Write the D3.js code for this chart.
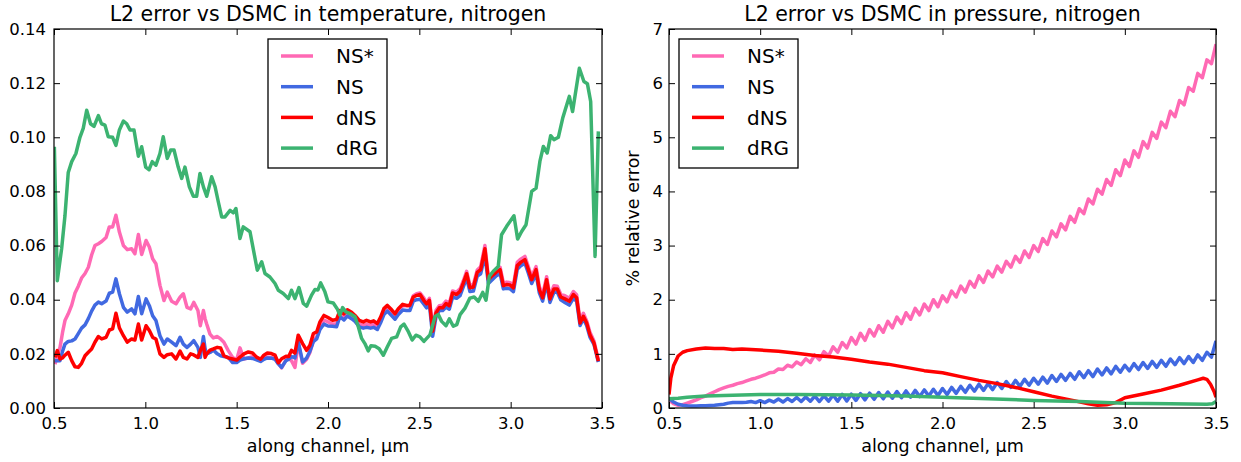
<!DOCTYPE html>
<html>
<head>
<meta charset="utf-8">
<script src="https://cdn.jsdelivr.net/npm/d3@7"></script>
<style>
  body { margin: 0; background: #fff; }
  svg { font-family: 'DejaVu Sans', sans-serif; }
</style>
</head>
<body>
<svg id="chart" width="1241" height="462"></svg>
<script>
const seriesNames = ['NS*', 'NS', 'dNS', 'dRG']
const seriesColors = ['#ff69b4', '#4169e1', '#ff0000', '#3cb371']

const xTicks = [0.5, 1.0, 1.5, 2.0, 2.5, 3.0, 3.5]
const tempTicks = [0, 0.02, 0.04, 0.06, 0.08, 0.1, 0.12, 0.14]
const pressTicks = [0, 1, 2, 3, 4, 5, 6, 7]

// temperature: NS*, NS and dNS are sampled at the same positions
const tempX = [
  0.505, 0.518, 0.533, 0.547, 0.56, 0.578, 0.597, 0.615, 0.633, 0.651,
  0.67, 0.688, 0.706, 0.724, 0.743, 0.761, 0.785, 0.803, 0.821, 0.839,
  0.858, 0.88, 0.901, 0.925, 0.943, 0.962, 0.98, 1.004, 1.022, 1.04,
  1.058, 1.08, 1.102, 1.12, 1.144, 1.168, 1.19, 1.208, 1.228, 1.248,
  1.265, 1.288, 1.301, 1.318, 1.327, 1.336, 1.354, 1.372, 1.394, 1.412,
  1.43, 1.454, 1.478, 1.5, 1.518, 1.54, 1.564, 1.587, 1.609, 1.631,
  1.649, 1.668, 1.69, 1.71, 1.728, 1.746, 1.77, 1.785, 1.8, 1.819,
  1.837, 1.861, 1.883, 1.901, 1.92, 1.938, 1.956, 1.978, 2.0, 2.025,
  2.047, 2.065, 2.087, 2.106, 2.129, 2.148, 2.171, 2.193, 2.211, 2.233,
  2.25, 2.27, 2.288, 2.306, 2.325, 2.343, 2.367, 2.385, 2.409, 2.43,
  2.448, 2.467, 2.485, 2.504, 2.525, 2.54, 2.555, 2.573, 2.591, 2.609,
  2.628, 2.646, 2.664, 2.682, 2.704, 2.723, 2.741, 2.759, 2.777, 2.796,
  2.817, 2.836, 2.859, 2.878, 2.896, 2.92, 2.942, 2.96, 2.978, 2.997,
  3.015, 3.036, 3.055, 3.078, 3.097, 3.115, 3.139, 3.157, 3.175, 3.197,
  3.215, 3.237, 3.255, 3.274, 3.297, 3.321, 3.343, 3.361, 3.38, 3.398,
  3.416, 3.434, 3.456, 3.48,
]
const tempNSstar = [
  0.0162, 0.019, 0.0224, 0.028, 0.0323, 0.0348, 0.038, 0.0425, 0.045, 0.048,
  0.0497, 0.052, 0.0565, 0.06, 0.0607, 0.0615, 0.063, 0.0669, 0.0669, 0.0712,
  0.065, 0.06, 0.0585, 0.0588, 0.057, 0.0641, 0.0567, 0.0619, 0.0595, 0.0551,
  0.0533, 0.0453, 0.0397, 0.0428, 0.0394, 0.0385, 0.0409, 0.0422, 0.0372, 0.0366,
  0.039, 0.036, 0.0304, 0.036, 0.033, 0.031, 0.0273, 0.0259, 0.0264, 0.0255,
  0.0243, 0.0212, 0.0187, 0.0178, 0.0222, 0.0181, 0.0185, 0.019, 0.0182, 0.0178,
  0.0185, 0.0188, 0.0186, 0.0183, 0.0165, 0.0148, 0.0178, 0.0182, 0.0175, 0.015,
  0.024, 0.0165, 0.018, 0.0205, 0.025, 0.0262, 0.0295, 0.0325, 0.0318, 0.031,
  0.031, 0.0345, 0.0335, 0.035, 0.034, 0.033, 0.031, 0.0305, 0.031, 0.0305,
  0.031, 0.03, 0.0325, 0.0357, 0.037, 0.0358, 0.034, 0.0358, 0.0378, 0.0378,
  0.0378, 0.0415, 0.0422, 0.0425, 0.0406, 0.0388, 0.0405, 0.0295, 0.036, 0.0378,
  0.038, 0.0395, 0.0386, 0.0432, 0.0428, 0.044, 0.047, 0.0505, 0.0453, 0.0456,
  0.051, 0.0522, 0.06, 0.0482, 0.0495, 0.051, 0.052, 0.0462, 0.0465, 0.0463,
  0.0452, 0.0538, 0.055, 0.056, 0.0522, 0.0485, 0.0522, 0.0448, 0.0418, 0.0485,
  0.0413, 0.0452, 0.045, 0.042, 0.0415, 0.0405, 0.043, 0.0418, 0.0322, 0.035,
  0.0322, 0.028, 0.0248, 0.0178,
]
const tempNS = [
  0.0175, 0.0175, 0.0175, 0.021, 0.0236, 0.0246, 0.0248, 0.0255, 0.0275, 0.0295,
  0.0307, 0.033, 0.0358, 0.038, 0.0391, 0.0385, 0.0395, 0.0424, 0.0428, 0.0477,
  0.0422, 0.0372, 0.0354, 0.0366, 0.0348, 0.0412, 0.0348, 0.0403, 0.0378, 0.0341,
  0.0323, 0.0267, 0.0236, 0.0255, 0.0243, 0.023, 0.0261, 0.0236, 0.0224, 0.0236,
  0.0249, 0.0224, 0.0187, 0.0264, 0.022, 0.02, 0.0205, 0.0214, 0.02, 0.0193,
  0.019, 0.0187, 0.0168, 0.0168, 0.0177, 0.0182, 0.0185, 0.0183, 0.0178, 0.0172,
  0.018, 0.0185, 0.0184, 0.018, 0.0163, 0.015, 0.0175, 0.018, 0.019, 0.0185,
  0.0245, 0.017, 0.0185, 0.021, 0.0245, 0.0255, 0.029, 0.031, 0.0303, 0.0302,
  0.03, 0.0338, 0.0325, 0.034, 0.033, 0.032, 0.03, 0.0295, 0.0298, 0.0295,
  0.0298, 0.029, 0.0315, 0.0345, 0.0358, 0.0345, 0.0328, 0.0345, 0.0362, 0.036,
  0.036, 0.0395, 0.04, 0.0402, 0.0383, 0.037, 0.0385, 0.0265, 0.0335, 0.036,
  0.036, 0.0372, 0.0365, 0.041, 0.0405, 0.0415, 0.0448, 0.048, 0.043, 0.0432,
  0.0487, 0.0496, 0.0565, 0.046, 0.0472, 0.0488, 0.0497, 0.044, 0.0442, 0.044,
  0.043, 0.0512, 0.0525, 0.0535, 0.0498, 0.046, 0.0497, 0.0425, 0.0395, 0.046,
  0.039, 0.0428, 0.0428, 0.04, 0.039, 0.038, 0.0405, 0.0395, 0.0305, 0.033,
  0.0305, 0.0262, 0.0235, 0.017,
]
const tempDNS = [
  0.0187, 0.0212, 0.0181, 0.0185, 0.0195, 0.0206, 0.0175, 0.0152, 0.015, 0.0165,
  0.0193, 0.0206, 0.0218, 0.0243, 0.0264, 0.0255, 0.0261, 0.0288, 0.0292, 0.035,
  0.0296, 0.0267, 0.0243, 0.0255, 0.0251, 0.031, 0.0251, 0.0304, 0.0286, 0.0261,
  0.0255, 0.02, 0.0187, 0.0197, 0.02, 0.0181, 0.021, 0.0187, 0.0181, 0.02,
  0.0196, 0.0187, 0.0212, 0.0236, 0.0187, 0.02, 0.0214, 0.0218, 0.0224, 0.0222,
  0.0193, 0.0185, 0.0181, 0.0177, 0.0188, 0.02, 0.0207, 0.0203, 0.0188, 0.018,
  0.0195, 0.0203, 0.0201, 0.0195, 0.0167, 0.0182, 0.0191, 0.019, 0.0213, 0.0203,
  0.0269, 0.0238, 0.0213, 0.0232, 0.0275, 0.0281, 0.0318, 0.0342, 0.0334, 0.0324,
  0.0327, 0.036, 0.0348, 0.0363, 0.0354, 0.0342, 0.0324, 0.0318, 0.0324, 0.0318,
  0.0322, 0.0312, 0.0336, 0.0367, 0.0379, 0.0367, 0.0348, 0.0367, 0.0383, 0.0379,
  0.0379, 0.041, 0.0416, 0.0419, 0.0397, 0.0385, 0.0398, 0.0284, 0.0351, 0.037,
  0.037, 0.0386, 0.0378, 0.0425, 0.0419, 0.0431, 0.0462, 0.0496, 0.0444, 0.0447,
  0.0501, 0.0511, 0.0588, 0.0474, 0.0487, 0.0501, 0.0511, 0.0452, 0.0456, 0.0454,
  0.0444, 0.0526, 0.0538, 0.0548, 0.0511, 0.0474, 0.0511, 0.0437, 0.0407, 0.0474,
  0.0403, 0.044, 0.044, 0.041, 0.0403, 0.0394, 0.0419, 0.0407, 0.0314, 0.0339,
  0.0314, 0.0271, 0.024, 0.0173,
]
const tempDRG = [
  [0.502, 0.0965], [0.518, 0.047], [0.542, 0.059], [0.56, 0.071], [0.578, 0.087],
  [0.597, 0.091], [0.62, 0.094], [0.642, 0.1], [0.66, 0.1033], [0.679, 0.11],
  [0.7, 0.105], [0.719, 0.104], [0.743, 0.108], [0.76, 0.105], [0.779, 0.1045],
  [0.797, 0.1002], [0.821, 0.1], [0.839, 0.097], [0.858, 0.1027], [0.88, 0.106],
  [0.898, 0.105], [0.916, 0.1027], [0.938, 0.1027], [0.962, 0.093], [0.98, 0.0965],
  [1.002, 0.089], [1.02, 0.088], [1.038, 0.091], [1.058, 0.0897], [1.08, 0.094],
  [1.098, 0.1002], [1.12, 0.0922], [1.139, 0.0953], [1.157, 0.0953], [1.18, 0.089],
  [1.199, 0.0848], [1.217, 0.089], [1.241, 0.0817], [1.263, 0.0782], [1.281, 0.0782],
  [1.299, 0.0866], [1.318, 0.0817], [1.336, 0.0782], [1.363, 0.0854], [1.382, 0.0817],
  [1.4, 0.076], [1.418, 0.0706], [1.436, 0.0706], [1.464, 0.073], [1.482, 0.0721],
  [1.496, 0.0737], [1.518, 0.0626], [1.536, 0.0669], [1.573, 0.0651], [1.613, 0.0509],
  [1.637, 0.054], [1.655, 0.0497], [1.682, 0.0484], [1.71, 0.046], [1.728, 0.0435],
  [1.755, 0.0423], [1.783, 0.0404], [1.8, 0.0435], [1.819, 0.0404], [1.841, 0.0445],
  [1.865, 0.0386], [1.883, 0.0376], [1.91, 0.0417], [1.929, 0.0438], [1.945, 0.0436],
  [1.96, 0.0462], [1.983, 0.0429], [2.0, 0.0392], [2.029, 0.0388], [2.05, 0.0367],
  [2.065, 0.0343], [2.08, 0.0371], [2.098, 0.0355], [2.12, 0.0349], [2.148, 0.0337],
  [2.166, 0.03], [2.184, 0.0257], [2.202, 0.0238], [2.22, 0.0211], [2.235, 0.023],
  [2.258, 0.0228], [2.28, 0.0219], [2.303, 0.0195], [2.325, 0.0226], [2.348, 0.0257],
  [2.376, 0.0263], [2.398, 0.03], [2.416, 0.031], [2.44, 0.0282], [2.461, 0.0251],
  [2.481, 0.0269], [2.503, 0.0263], [2.525, 0.0246], [2.558, 0.027], [2.586, 0.0338],
  [2.604, 0.0345], [2.622, 0.032], [2.646, 0.0304], [2.664, 0.0329], [2.686, 0.0302],
  [2.705, 0.0308], [2.723, 0.0345], [2.75, 0.0369], [2.777, 0.0406], [2.8, 0.041],
  [2.823, 0.0394], [2.847, 0.0427], [2.865, 0.0398], [2.883, 0.0486], [2.905, 0.0505],
  [2.932, 0.0523], [2.95, 0.064], [2.978, 0.0671], [3.018, 0.071], [3.038, 0.0624],
  [3.06, 0.0652], [3.084, 0.0677], [3.115, 0.08], [3.139, 0.0812], [3.16, 0.0911],
  [3.179, 0.0966], [3.2, 0.0942], [3.219, 0.1006], [3.237, 0.0991], [3.261, 0.1],
  [3.285, 0.1071], [3.321, 0.1151], [3.339, 0.1095], [3.376, 0.1255], [3.401, 0.1206],
  [3.42, 0.1198], [3.438, 0.1132], [3.462, 0.056], [3.48, 0.1022],
]

// pressure: NS* and NS are sampled every 0.025 from 0.5 to 3.5
const pressStart = 0.5
const pressStep = 0.025
const pressNSstar = [
  0.15, 0.08, 0.05, 0.06, 0.09, 0.12, 0.15, 0.19, 0.22, 0.26,
  0.30, 0.34, 0.37, 0.40, 0.42, 0.45, 0.47, 0.50, 0.53, 0.55,
  0.58, 0.61, 0.65, 0.66, 0.72, 0.71, 0.79, 0.76, 0.85, 0.80,
  0.91, 0.84, 0.98, 0.89, 1.04, 0.96, 1.13, 1.03, 1.21, 1.11,
  1.30, 1.18, 1.38, 1.25, 1.45, 1.33, 1.52, 1.40, 1.60, 1.48,
  1.68, 1.56, 1.76, 1.64, 1.84, 1.72, 1.92, 1.80, 2.00, 1.87,
  2.07, 1.96, 2.16, 2.05, 2.25, 2.14, 2.34, 2.23, 2.44, 2.32,
  2.53, 2.42, 2.62, 2.51, 2.71, 2.60, 2.80, 2.69, 2.90, 2.78,
  3.00, 2.89, 3.13, 3.02, 3.27, 3.16, 3.40, 3.29, 3.54, 3.43,
  3.68, 3.59, 3.86, 3.77, 4.04, 3.95, 4.22, 4.11, 4.40, 4.29,
  4.58, 4.46, 4.75, 4.63, 4.92, 4.80, 5.09, 4.98, 5.28, 5.18,
  5.48, 5.38, 5.68, 5.60, 5.92, 5.85, 6.18, 6.10, 6.43, 6.36,
  6.72,
]
const pressNS = [
  0.18, 0.11, 0.07, 0.05, 0.04, 0.035, 0.035, 0.04, 0.04, 0.045,
  0.05, 0.06, 0.07, 0.09, 0.10, 0.10, 0.10, 0.105, 0.12, 0.10,
  0.135, 0.10, 0.145, 0.11, 0.165, 0.11, 0.175, 0.12, 0.195, 0.12,
  0.205, 0.125, 0.22, 0.12, 0.225, 0.125, 0.24, 0.125, 0.25, 0.13,
  0.255, 0.14, 0.265, 0.15, 0.275, 0.16, 0.285, 0.17, 0.295, 0.18,
  0.305, 0.19, 0.315, 0.20, 0.325, 0.21, 0.335, 0.22, 0.345, 0.23,
  0.36, 0.25, 0.38, 0.27, 0.40, 0.29, 0.42, 0.31, 0.44, 0.325,
  0.45, 0.34, 0.47, 0.36, 0.49, 0.38, 0.51, 0.40, 0.53, 0.42,
  0.55, 0.44, 0.57, 0.46, 0.60, 0.49, 0.62, 0.51, 0.64, 0.53,
  0.67, 0.56, 0.69, 0.58, 0.72, 0.61, 0.74, 0.63, 0.77, 0.66,
  0.79, 0.685, 0.82, 0.71, 0.84, 0.73, 0.86, 0.75, 0.88, 0.77,
  0.905, 0.80, 0.93, 0.82, 0.95, 0.84, 0.98, 0.88, 1.03, 0.94,
  1.24,
]
const pressDNS = [
  [0.5, 0.25], [0.51, 0.55], [0.525, 0.78], [0.55, 0.96], [0.575, 1.03],
  [0.6, 1.06], [0.65, 1.09], [0.7, 1.11], [0.75, 1.1], [0.8, 1.1],
  [0.85, 1.08], [0.9, 1.09], [0.95, 1.08], [1.0, 1.07], [1.1, 1.05],
  [1.2, 1.01], [1.3, 0.97], [1.4, 0.94], [1.5, 0.9], [1.6, 0.85],
  [1.7, 0.81], [1.8, 0.75], [1.9, 0.69], [2.0, 0.65], [2.1, 0.58],
  [2.2, 0.51], [2.3, 0.45], [2.4, 0.38], [2.5, 0.3], [2.6, 0.22],
  [2.7, 0.15], [2.8, 0.08], [2.85, 0.05], [2.9, 0.06], [2.95, 0.1],
  [3.0, 0.19], [3.1, 0.26], [3.2, 0.33], [3.3, 0.42], [3.4, 0.52],
  [3.43, 0.55], [3.45, 0.53], [3.47, 0.44], [3.49, 0.3], [3.5, 0.2],
]
const pressDRG = [
  [0.5, 0.17], [0.55, 0.18], [0.6, 0.2], [0.7, 0.22], [0.8, 0.23],
  [0.9, 0.24], [1.0, 0.25], [1.2, 0.25], [1.5, 0.24], [1.8, 0.22],
  [2.0, 0.2], [2.25, 0.17], [2.5, 0.14], [2.75, 0.12], [3.0, 0.09],
  [3.25, 0.08], [3.45, 0.07], [3.48, 0.08], [3.5, 0.12],
]

const svg = d3.select('#chart')
const tickLen = 6

function drawPanel(opts) {
  const { box, yDomain, yTicks, yFormat, title, ylabel, series, legendX, clipId } = opts
  const x = d3.scaleLinear().domain([0.5, 3.5]).range([box.x0, box.x1])
  const y = d3.scaleLinear().domain(yDomain).range([box.y1, box.y0])
  const g = svg.append('g')

  g.append('clipPath')
    .attr('id', clipId)
    .append('rect')
    .attr('x', box.x0)
    .attr('y', box.y0)
    .attr('width', box.x1 - box.x0)
    .attr('height', box.y1 - box.y0)

  const line = d3
    .line()
    .x(d => x(d[0]))
    .y(d => y(d[1]))

  const lines = g.append('g').attr('clip-path', `url(#${clipId})`)
  series.forEach((s, i) => {
    lines
      .append('path')
      .datum(s)
      .attr('fill', 'none')
      .attr('stroke', seriesColors[i])
      .attr('stroke-width', 3.5)
      .attr('stroke-linejoin', 'round')
      .attr('stroke-linecap', 'butt')
      .attr('d', line)
  })

  // axes: ticks point inward on all four sides
  const styleAxis = sel => {
    sel.select('.domain').remove()
    sel.selectAll('.tick line').attr('stroke', '#000').attr('stroke-width', 1)
    sel.selectAll('.tick text').attr('fill', '#000')
  }
  g.append('g')
    .attr('transform', `translate(0,${box.y1})`)
    .call(d3.axisBottom(x).tickValues(xTicks).tickFormat(d3.format('.1f')).tickSize(-tickLen).tickPadding(9))
    .attr('font-size', 16.5)
    .attr('font-family', 'DejaVu Sans')
    .call(styleAxis)
  g.append('g')
    .attr('transform', `translate(0,${box.y0})`)
    .call(d3.axisTop(x).tickValues(xTicks).tickFormat('').tickSize(-tickLen))
    .call(styleAxis)
  g.append('g')
    .attr('transform', `translate(${box.x0},0)`)
    .call(d3.axisLeft(y).tickValues(yTicks).tickFormat(yFormat).tickSize(-tickLen).tickPadding(opts.yPad))
    .attr('font-size', 16.5)
    .attr('font-family', 'DejaVu Sans')
    .call(styleAxis)
  g.append('g')
    .attr('transform', `translate(${box.x1},0)`)
    .call(d3.axisRight(y).tickValues(yTicks).tickFormat('').tickSize(-tickLen))
    .call(styleAxis)

  g.append('rect')
    .attr('x', box.x0)
    .attr('y', box.y0)
    .attr('width', box.x1 - box.x0)
    .attr('height', box.y1 - box.y0)
    .attr('fill', 'none')
    .attr('stroke', '#000')
    .attr('stroke-width', 1.2)

  g.append('text')
    .attr('x', (box.x0 + box.x1) / 2)
    .attr('y', 21)
    .attr('text-anchor', 'middle')
    .attr('font-size', 20.5)
    .text(title)

  g.append('text')
    .attr('x', (box.x0 + box.x1) / 2)
    .attr('y', 452)
    .attr('text-anchor', 'middle')
    .attr('font-size', 17.5)
    .text('along channel, μm')

  if (ylabel) {
    g.append('text')
      .attr('transform', `translate(${box.x0 - 30},${(box.y0 + box.y1) / 2}) rotate(-90)`)
      .attr('text-anchor', 'middle')
      .attr('font-size', 17.5)
      .text(ylabel)
  }

  // legend
  const lg = g.append('g').attr('transform', `translate(${legendX},39)`)
  lg.append('rect')
    .attr('width', 119)
    .attr('height', 129)
    .attr('fill', '#fff')
    .attr('stroke', '#000')
    .attr('stroke-width', 1.3)
  seriesNames.forEach((name, i) => {
    const yy = 17 + i * 30.7
    lg.append('line')
      .attr('x1', 13)
      .attr('x2', 45)
      .attr('y1', yy)
      .attr('y2', yy)
      .attr('stroke', seriesColors[i])
      .attr('stroke-width', 3.5)
    lg.append('text')
      .attr('x', 68)
      .attr('y', yy)
      .attr('dy', '0.36em')
      .attr('font-size', 20)
      .text(name)
  })
}

const zip = (xs, vs) => vs.map((v, i) => [xs[i], v])
const onGrid = vs => vs.map((v, i) => [pressStart + i * pressStep, v])

drawPanel({
  box: { x0: 54, x1: 602, y0: 29, y1: 408 },
  yDomain: [0, 0.14],
  yTicks: tempTicks,
  yFormat: d3.format('.2f'),
  yPad: 8,
  title: 'L2 error vs DSMC in temperature, nitrogen',
  series: [zip(tempX, tempNSstar), zip(tempX, tempNS), zip(tempX, tempDNS), tempDRG],
  legendX: 268,
  clipId: 'clip-temp',
})

drawPanel({
  box: { x0: 669, x1: 1216, y0: 29, y1: 408 },
  yDomain: [0, 7],
  yTicks: pressTicks,
  yFormat: d3.format('d'),
  yPad: 6,
  title: 'L2 error vs DSMC in pressure, nitrogen',
  ylabel: '% relative error',
  series: [onGrid(pressNSstar), onGrid(pressNS), pressDNS, pressDRG],
  legendX: 679,
  clipId: 'clip-press',
})
</script>
</body>
</html>
